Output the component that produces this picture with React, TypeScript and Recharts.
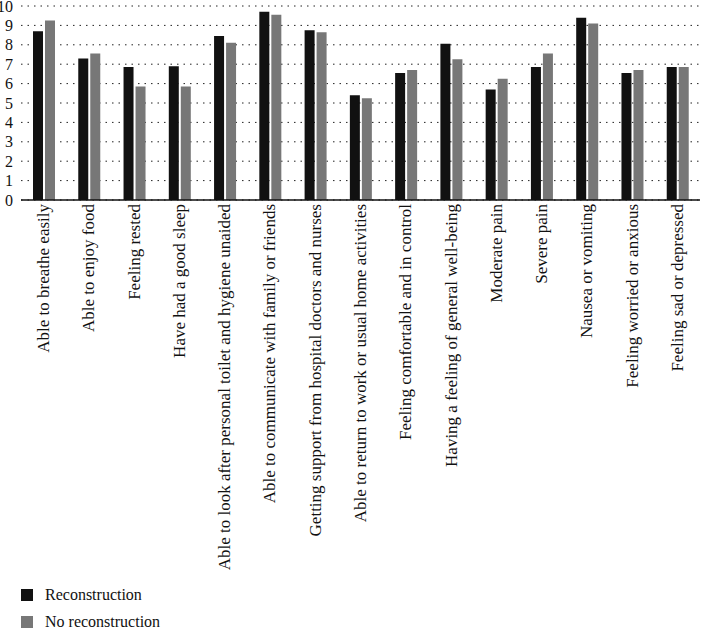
import React from "react";
import {
  BarChart,
  Bar,
  XAxis,
  YAxis,
  CartesianGrid,
  Legend,
} from "recharts";

const categories = [
  "Able to breathe easily",
  "Able to enjoy food",
  "Feeling rested",
  "Have had a good sleep",
  "Able to look after personal toilet and hygiene unaided",
  "Able to communicate with family or friends",
  "Getting support from hospital doctors and nurses",
  "Able to return to work or usual home activities",
  "Feeling comfortable and in control",
  "Having a feeling of general well-being",
  "Moderate pain",
  "Severe pain",
  "Nausea or vomiting",
  "Feeling worried or anxious",
  "Feeling sad or depressed",
];

const reconstruction = [8.7, 7.3, 6.85, 6.9, 8.45, 9.7, 8.75, 5.4, 6.55, 8.05, 5.7, 6.85, 9.4, 6.55, 6.85];
const noReconstruction = [9.25, 7.55, 5.85, 5.85, 8.1, 9.55, 8.65, 5.25, 6.7, 7.25, 6.25, 7.55, 9.1, 6.7, 6.85];

const yTicks = [0, 1, 2, 3, 4, 5, 6, 7, 8, 9, 10];

const FONT = "'Liberation Serif', 'DejaVu Serif', serif";
const BLACK = "#111111";
const GRAY = "#777777";

const data = categories.map((name, i) => ({
  name,
  rec: reconstruction[i],
  norec: noReconstruction[i],
}));

function CategoryTick(props: any) {
  const { x, y, payload } = props;
  return (
    <text
      transform={`translate(${x}, ${y - 4}) rotate(-90)`}
      textAnchor="end"
      dominantBaseline="central"
      style={{ fontFamily: FONT, fontSize: 17 }}
      fill="#111"
    >
      {payload.value}
    </text>
  );
}

function LegendBox() {
  const items = [
    { label: "Reconstruction", color: BLACK },
    { label: "No reconstruction", color: GRAY },
  ];
  return (
    <div style={{ fontFamily: FONT, fontSize: 16, color: "#111" }}>
      {items.map((it) => (
        <div key={it.label} style={{ display: "flex", alignItems: "center", height: 27 }}>
          <span
            style={{
              display: "inline-block",
              width: 12,
              height: 12,
              background: it.color,
              marginRight: 12,
            }}
          />
          {it.label}
        </div>
      ))}
    </div>
  );
}

export default function App() {
  return (
    <div style={{ position: "absolute", left: 0, top: 0, background: "#fff" }}>
      <BarChart
        width={701}
        height={629}
        data={data}
        margin={{ top: 6, right: 1, left: 0, bottom: 5 }}
        barSize={10}
        barGap={2}
      >
        <CartesianGrid vertical={false} stroke="#222" strokeDasharray="1.5 5" />
        <XAxis
          dataKey="name"
          interval={0}
          height={370}
          tick={<CategoryTick />}
          tickLine={false}
          axisLine={{ stroke: "#111", strokeWidth: 1.5 }}
        />
        <YAxis
          domain={[0, 10]}
          ticks={yTicks}
          interval={0}
          width={21}
          axisLine={false}
          tickLine={false}
          tickSize={0}
          tickMargin={8}
          tick={{ fontFamily: FONT, fontSize: 16, fill: "#111" }}
        />
        <Legend
          layout="horizontal"
          verticalAlign="bottom"
          align="left"
          content={<LegendBox />}
          wrapperStyle={{ left: 21, top: 581, width: 300 }}
        />
        <Bar dataKey="rec" name="Reconstruction" fill={BLACK} isAnimationActive={false} />
        <Bar dataKey="norec" name="No reconstruction" fill={GRAY} isAnimationActive={false} />
      </BarChart>
    </div>
  );
}
